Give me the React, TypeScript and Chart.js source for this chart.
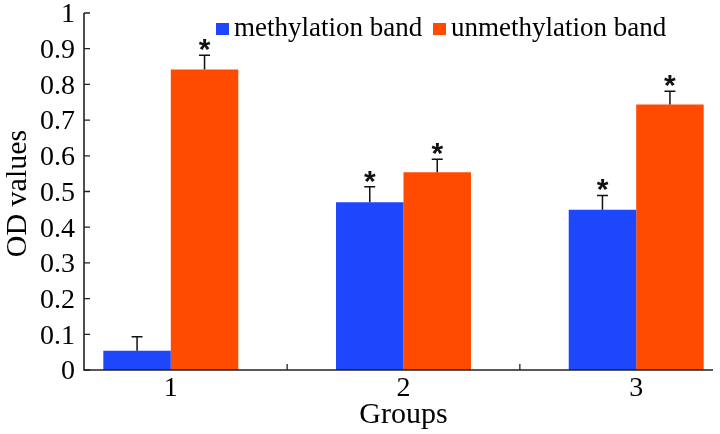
import React, { useEffect, useRef } from 'react';
import { Chart, registerables } from 'chart.js';

Chart.register(...registerables);

// ---- data ----
const groups = [1, 2, 3];
const groupLabels = ['1', '2', '3'];
const seriesNames = ['methylation band', 'unmethylation band'];
const methylation = [0.054, 0.47, 0.449];
const methylationErr = [0.039, 0.043, 0.04];
const unmethylation = [0.842, 0.554, 0.744];
const unmethylationErr = [0.04, 0.036, 0.037];
const methylationSig = [false, true, true];
const unmethylationSig = [true, true, true];
const yMin = 0;
const yMax = 1;
const yStep = 0.1;
const xTitle = 'Groups';
const yTitle = 'OD values';

// ---- style ----
const BLUE = '#1E46FA';
const ORANGE = '#FF4B00';
const SERIF = "'Liberation Serif', Tinos, 'Times New Roman', 'DejaVu Serif', serif";
const AXIS = '#222';

const errs = [methylationErr, unmethylationErr];
const sigs = [methylationSig, unmethylationSig];
const colors = [BLUE, ORANGE];

const overlay = {
  id: 'overlay',
  afterDatasetsDraw(chart: any) {
    const ctx = chart.ctx as CanvasRenderingContext2D;
    const { left, right, top, bottom } = chart.chartArea;
    const ys = chart.scales.y;
    const xs = chart.scales.x;
    ctx.save();
    // error bars and stars
    chart.data.datasets.forEach((ds: any, di: number) => {
      const meta = chart.getDatasetMeta(di);
      meta.data.forEach((bar: any, i: number) => {
        const v = ds.data[i].y;
        const e = errs[di][i];
        const yTop = ys.getPixelForValue(v + e);
        const x = bar.x;
        ctx.strokeStyle = '#111';
        ctx.lineWidth = 1.5;
        ctx.beginPath();
        ctx.moveTo(x, bar.y);
        ctx.lineTo(x, yTop);
        ctx.moveTo(x - 5.5, yTop);
        ctx.lineTo(x + 5.5, yTop);
        ctx.stroke();
        if (sigs[di][i]) {
          ctx.fillStyle = '#111';
          ctx.font = "bold 30px 'Liberation Sans', Arial, sans-serif";
          ctx.textAlign = 'center';
          ctx.textBaseline = 'alphabetic';
          ctx.fillText('*', x, yTop + 4);
        }
      });
    });
    // axes lines
    ctx.strokeStyle = AXIS;
    ctx.lineWidth = 1.6;
    ctx.beginPath();
    ctx.moveTo(left, top);
    ctx.lineTo(left, bottom);
    ctx.lineTo(right, bottom);
    ctx.stroke();
    // y ticks inward
    ctx.lineWidth = 1.3;
    ctx.beginPath();
    ys.ticks.forEach((t: any) => {
      const y = ys.getPixelForValue(t.value);
      ctx.moveTo(left, y);
      ctx.lineTo(left + 6, y);
    });
    // x boundary ticks inward
    for (let g = 0; g < groups.length - 1; g++) {
      const xv = (groups[g] + groups[g + 1]) / 2;
      const x = xs.getPixelForValue(xv);
      ctx.moveTo(x, bottom);
      ctx.lineTo(x, bottom - 6);
    }
    ctx.stroke();

    // axis titles
    ctx.fillStyle = '#000';
    ctx.font = `30px ${SERIF}`;
    ctx.textAlign = 'center';
    ctx.textBaseline = 'middle';
    ctx.fillText(xTitle, xs.getPixelForValue(groups[1]), 415);
    ctx.save();
    ctx.translate(18, (top + bottom) / 2 + 2);
    ctx.rotate(-Math.PI / 2);
    ctx.fillText(yTitle, 0, 0);
    ctx.restore();

    // legend
    const legendX = [216, 433];
    ctx.font = `27px ${SERIF}`;
    ctx.textAlign = 'left';
    ctx.textBaseline = 'alphabetic';
    seriesNames.forEach((name, i) => {
      ctx.fillStyle = colors[i];
      ctx.fillRect(legendX[i], 23, 13, 12);
      ctx.fillStyle = '#000';
      ctx.fillText(name, legendX[i] + 18, 36);
    });
    ctx.restore();
  },
};

export default function App() {
  const ref = useRef<HTMLCanvasElement | null>(null);
  useEffect(() => {
    let chart: any = null;
    let cancelled = false;
    const build = () => {
      if (cancelled || !ref.current) return;
      chart = new Chart(ref.current, {
        type: 'bar',
        data: {
          datasets: [
            {
              label: seriesNames[0],
              data: groups.map((g, i) => ({ x: g, y: methylation[i] })),
              backgroundColor: BLUE,
              borderWidth: 0,
            },
            {
              label: seriesNames[1],
              data: groups.map((g, i) => ({ x: g, y: unmethylation[i] })),
              backgroundColor: ORANGE,
              borderWidth: 0,
            },
          ],
        },
        options: {
          animation: false,
          responsive: false,
          devicePixelRatio: 1,
          layout: { padding: { top: 13, right: 7, left: 0, bottom: 0 } },
          datasets: { bar: { categoryPercentage: 0.58, barPercentage: 1 } },
          plugins: {
            legend: { display: false },
            tooltip: { enabled: false },
            title: { display: false },
          },
          scales: {
            x: {
              type: 'linear',
              min: 0.627,
              max: 3.33,
              offset: false,
              grid: { display: false, drawTicks: false, offset: false },
              border: { display: false },
              afterBuildTicks: (s: any) => {
                s.ticks = groups.map((v) => ({ value: v }));
              },
              ticks: {
                font: { family: SERIF, size: 28 },
                color: '#000',
                padding: 2,
                autoSkip: false,
                maxRotation: 0,
                callback: (v: any) => {
                  const idx = groups.indexOf(Number(v));
                  return idx >= 0 ? groupLabels[idx] : '';
                },
              },
              afterFit: (s: any) => {
                s.height = 64;
                s.paddingLeft = 0;
                s.paddingRight = 0;
              },
            },
            y: {
              type: 'linear',
              min: yMin,
              max: yMax,
              grid: { display: false, drawTicks: false },
              border: { display: false },
              ticks: {
                stepSize: yStep,
                autoSkip: false,
                font: { family: SERIF, size: 28 },
                color: '#000',
                padding: 9,
                labelOffset: 2,
                callback: (v: any) => String(Number(Number(v).toFixed(1))),
              },
              afterFit: (s: any) => {
                s.width = 84;
                s.paddingTop = 0;
                s.paddingBottom = 0;
              },
            },
          },
        } as any,
        plugins: [overlay],
      });
    };
    const fontsApi: any = (document as any).fonts;
    if (fontsApi && fontsApi.load) {
      Promise.all([
        fontsApi.load(`28px 'Liberation Serif'`),
        fontsApi.load(`bold 30px 'Liberation Sans'`),
      ])
        .catch(() => null)
        .then(() => build());
    } else {
      build();
    }
    return () => {
      cancelled = true;
      if (chart) chart.destroy();
    };
  }, []);
  return (
    <div style={{ position: 'fixed', left: 0, top: 0, width: 720, height: 434, background: '#fff' }}>
      <span style={{ position: 'absolute', left: -1000, top: 0, fontFamily: "'Liberation Serif'", fontSize: 28 }}>0.123 OD Groups</span>
      <canvas ref={ref} width={720} height={434} style={{ width: 720, height: 434, display: 'block' }} />
    </div>
  );
}
